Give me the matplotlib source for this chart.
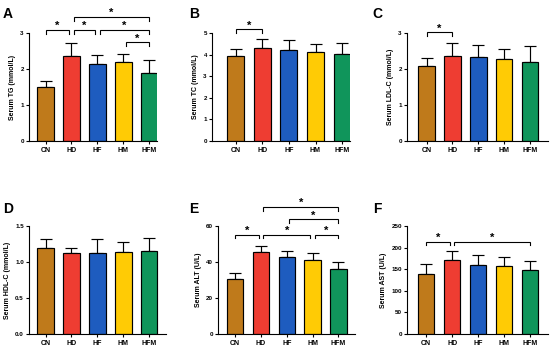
import matplotlib
matplotlib.use("Agg")
import matplotlib.pyplot as plt
from matplotlib.ticker import FixedLocator, FixedFormatter

plt.rcParams['font.family'] = ['Liberation Sans', 'DejaVu Sans']
plt.rcParams['font.weight'] = 'bold'

groups = ["CN", "HD", "HF", "HM", "HFM"]
colors = ["#BF7A1B", "#EE3D32", "#1E5CBF", "#FFCB05", "#10955B"]

tg_mean = [1.51, 2.37, 2.13, 2.19, 1.89]
tg_err = [0.15, 0.34, 0.25, 0.23, 0.35]
tc_mean = [3.95, 4.30, 4.20, 4.11, 4.03]
tc_err = [0.33, 0.41, 0.46, 0.37, 0.49]
ldl_mean = [2.07, 2.36, 2.32, 2.27, 2.20]
ldl_err = [0.23, 0.36, 0.34, 0.28, 0.43]
hdl_mean = [1.20, 1.12, 1.13, 1.14, 1.15]
hdl_err = [0.12, 0.08, 0.19, 0.14, 0.18]
alt_mean = [30.6, 45.7, 42.7, 41.1, 36.1]
alt_err = [3.5, 3.3, 3.3, 4.0, 3.9]
ast_mean = [138.0, 171.5, 160.8, 157.7, 148.5]
ast_err = [23.5, 21.5, 21.2, 20.0, 21.5]

tg_ticks = [0, 1, 2, 3]
tc_ticks = [0, 1, 2, 3, 4, 5]
ldl_ticks = [0, 1, 2, 3]
hdl_ticks = [0.0, 0.5, 1.0, 1.5]
alt_ticks = [0, 20, 40, 60]
ast_ticks = [0, 50, 100, 150, 200, 250]

tg_sig = [(0, 1, 3.09), (1, 2, 3.09), (2, 4, 3.09), (3, 4, 2.74), (1, 4, 3.45)]
tc_sig = [(0, 1, 5.17)]
ldl_sig = [(0, 1, 3.02)]
hdl_sig = []
alt_sig = [(0, 1, 55.2), (1, 3, 55.2), (3, 4, 55.2), (2, 4, 63.7), (1, 4, 70.7)]
ast_sig = [(0, 1, 214), (1, 4, 214)]

W, H = 550, 349
fig = plt.figure(figsize=(W / 100, H / 100), dpi=100)

panels = [
    ("A", "Serum TG (mmol/L)", tg_mean, tg_err, tg_ticks, "{:.0f}", tg_sig, (29, 157, 33, 141), (-0.64, 4.3), (3, 7)),
    ("B", "Serum TC (mmol/L)", tc_mean, tc_err, tc_ticks, "{:.0f}", tc_sig, (212, 350, 33, 141), (-0.9, 4.3), (189, 7)),
    ("C", "Serum LDL-C (mmol/L)", ldl_mean, ldl_err, ldl_ticks, "{:.0f}", ldl_sig, (407, 548, 33, 141), (-0.76, 4.7), (372, 7)),
    ("D", "Serum HDL-C (mmol/L)", hdl_mean, hdl_err, hdl_ticks, "{:.1f}", hdl_sig, (29, 166, 226, 334), (-0.64, 4.65), (3, 202)),
    ("E", "Serum ALT (U/L)", alt_mean, alt_err, alt_ticks, "{:.0f}", alt_sig, (218, 355, 226, 334), (-0.67, 4.65), (189, 202)),
    ("F", "Serum AST (U/L)", ast_mean, ast_err, ast_ticks, "{:.0f}", ast_sig, (407, 548, 226, 334), (-0.74, 4.7), (373, 202)),
]

x = list(range(len(groups)))

for letter, ylabel, mean, err, ticks, fmt, sig, (l, r, t, b), xlim, (lx, ly) in panels:
    ax = fig.add_axes([l / W, 1 - b / H, (r - l) / W, (b - t) / H])
    ax.bar(x, mean, width=0.64, color=colors, edgecolor="black", linewidth=0.85, zorder=2)
    ax.errorbar(x, mean, yerr=[[0] * len(err), err], fmt="none", ecolor="black",
                elinewidth=0.85, capsize=4.0, capthick=0.85, zorder=1)
    ax.set_xlim(*xlim)
    ax.set_ylim(ticks[0], ticks[-1])
    ax.yaxis.set_major_locator(FixedLocator(ticks))
    ax.yaxis.set_major_formatter(FixedFormatter([fmt.format(v) for v in ticks]))
    ax.set_xticks(x)
    ax.set_xticklabels(groups, fontsize=5, fontweight="bold")
    for lab in ax.get_yticklabels():
        lab.set_fontsize(4.5)
        lab.set_fontweight("bold")
    ax.set_ylabel(ylabel, fontsize=5, fontweight="bold", labelpad=3)
    for s in ["top", "right"]:
        ax.spines[s].set_visible(False)
    for s in ["left", "bottom"]:
        ax.spines[s].set_linewidth(0.8)
    ax.tick_params(axis="both", length=2.2, width=0.8, pad=1.5)
    ax.tick_params(axis="x", pad=2)

    ymax = ticks[-1]
    drop = 0.035 * ymax
    shrink = 0.09 if len(sig) > 1 else 0.0
    for i, j, y in sig:
        x1 = i + (shrink if 0 < i < 4 else 0)
        x2 = j - (shrink if 0 < j < 4 else 0)
        ax.plot([x1, x1, x2, x2], [y - drop, y, y, y - drop], color="black",
                linewidth=0.8, clip_on=False, solid_joinstyle="miter")
        ax.annotate("*", xy=((x1 + x2) / 2, y), xytext=(0, 0.5), textcoords="offset points",
                    ha="center", va="baseline", fontsize=8, fontweight="bold",
                    annotation_clip=False)

    fig.text(lx / W, 1 - ly / H, letter, fontsize=10, fontweight="bold",
             ha="left", va="top")

fig.savefig("out.png", dpi=100)
